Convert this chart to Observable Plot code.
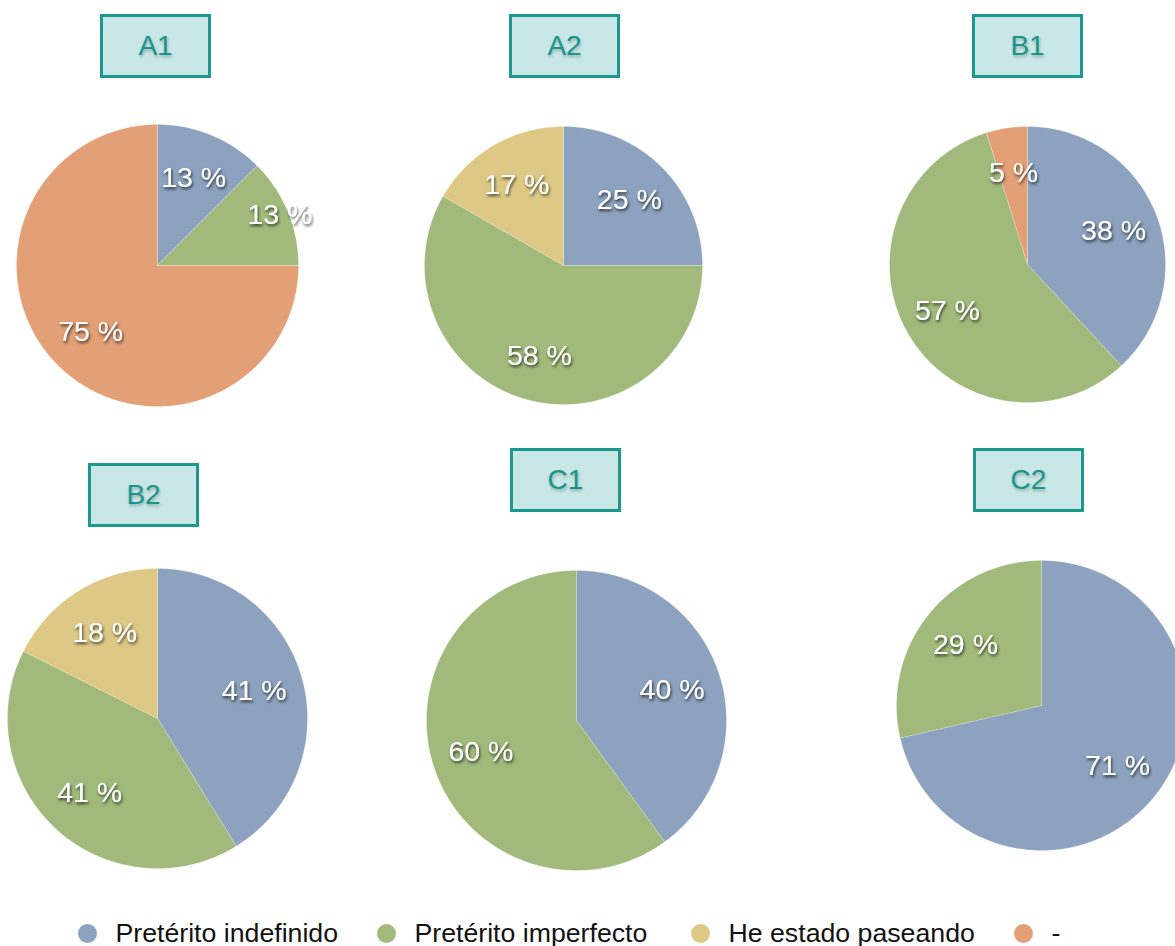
<!DOCTYPE html>
<html>
<head>
<meta charset="utf-8">
<script src="https://cdn.jsdelivr.net/npm/d3@7"></script>
<script src="https://cdn.jsdelivr.net/npm/@observablehq/plot@0.6"></script>
<style>
  html, body { margin: 0; padding: 0; background: #fff; }
  body { width: 1175px; height: 946px; position: relative; overflow: hidden;
         font-family: "Liberation Sans", Arial, Helvetica, sans-serif; }
  .pie { position: absolute; }
  .title { position: absolute; box-sizing: border-box; width: 111px; height: 64px;
           border: 3px solid #1c9891; background: #c9e7e7; color: #1a958e;
           font-size: 28px; display: flex; align-items: center; justify-content: center;
           text-shadow: 1px 2px 3px rgba(0,0,0,0.25); z-index: 5; }
  .legend .item { position: absolute; top: 918px; height: 30px; display: flex; align-items: center;
                  font-size: 26.7px; color: #111; white-space: nowrap; }
  .legend .dot { width: 19px; height: 19px; border-radius: 50%; margin-right: 19px; flex: none; }
</style>
</head>
<body>
<svg width="0" height="0" style="position:absolute">
  <defs>
    <filter id="labelShadow" x="-30%" y="-30%" width="160%" height="170%">
      <feDropShadow dx="1" dy="2" stdDeviation="1.6" flood-color="#000" flood-opacity="0.7"/>
    </filter>
  </defs>
</svg>
<script>
// ---- data ----
const categories = ["Pretérito indefinido", "Pretérito imperfecto", "He estado paseando", "-"];
const colors = ["#8ca2be", "#a1ba7b", "#ddc985", "#e3a077"];
const charts = ["A1", "A2", "B1", "B2", "C1", "C2"];
const indefinido = [12.5, 25.0, 38.1, 41.2, 40.0, 71.4];
const imperfecto = [12.5, 58.3, 57.1, 41.2, 60.0, 28.6];
const paseando   = [0,    16.7, 0,    17.6, 0,    0];
const guion      = [75.0, 0,    4.8,  0,    0,    0];

// ---- layout (pixel placement of each pie, its title box, legend items) ----
const layout = [
  {cx: 157,  cy: 265, r: 141, tx: 155.5,  ty: 46},
  {cx: 563,  cy: 265, r: 139, tx: 564.5,  ty: 46},
  {cx: 1027, cy: 264, r: 138, tx: 1027.5, ty: 46},
  {cx: 157,  cy: 718, r: 150, tx: 143.5,  ty: 495},
  {cx: 576,  cy: 720, r: 150, tx: 565.5,  ty: 480},
  {cx: 1041, cy: 705, r: 145, tx: 1028.5, ty: 480}
];
const legendLeft = [77.5, 376.5, 690.5, 1013.5];
const M = 60;

charts.forEach((name, ci) => {
  const values = [indefinido[ci], imperfecto[ci], paseando[ci], guion[ci]];
  const total = d3.sum(values);
  const poly = [];
  const labels = [];
  let acc = 0;
  values.forEach((v, k) => {
    if (v <= 0) return;
    const a0 = acc / total * 2 * Math.PI;
    const a1 = (acc + v) / total * 2 * Math.PI;
    acc += v;
    const cat = categories[k];
    poly.push({cat, x: 0, y: 0});
    const steps = Math.max(2, Math.ceil((a1 - a0) / (Math.PI / 360)));
    for (let s = 0; s <= steps; s++) {
      const a = a0 + (a1 - a0) * s / steps;
      poly.push({cat, x: Math.sin(a), y: Math.cos(a)});
    }
    poly.push({cat, x: 0, y: 0});
    const am = (a0 + a1) / 2;
    // the second small slice of A1 has its label pushed outward in the original
    const lr = (name === "A1" && k === 1) ? 0.94 : 0.67;
    labels.push({x: lr * Math.sin(am), y: lr * Math.cos(am), text: Math.round(v / total * 100) + " %"});
  });

  const L = layout[ci];
  const size = 2 * L.r + 2 * M;
  const svg = Plot.plot({
    width: size, height: size, margin: M,
    style: {background: "transparent", maxWidth: "none", overflow: "visible"},
    x: {domain: [-1, 1], axis: null},
    y: {domain: [-1, 1], axis: null},
    color: {domain: categories, range: colors},
    marks: [
      Plot.line(poly, {x: "x", y: "y", z: "cat", fill: "cat", stroke: "white", strokeWidth: 0.4, strokeOpacity: 0.5, curve: "linear"}),
      Plot.text(labels, {x: "x", y: "y", text: "text", fill: "white", fontSize: 28.5,
        fontFamily: "Liberation Sans, Arial, Helvetica, sans-serif"})
    ]
  });
  svg.querySelectorAll('g[aria-label="text"]').forEach(g => g.setAttribute("filter", "url(#labelShadow)"));
  const div = document.createElement("div");
  div.className = "pie";
  div.style.left = (L.cx - L.r - M) + "px";
  div.style.top = (L.cy - L.r - M) + "px";
  div.style.width = size + "px";
  div.style.height = size + "px";
  div.appendChild(svg);
  document.body.appendChild(div);

  const t = document.createElement("div");
  t.className = "title";
  t.textContent = name;
  t.style.left = (L.tx - 55.5) + "px";
  t.style.top = (L.ty - 32) + "px";
  document.body.appendChild(t);
});

// ---- legend ----
const legend = document.createElement("div");
legend.className = "legend";
categories.forEach((c, i) => {
  const item = document.createElement("div");
  item.className = "item";
  item.style.left = legendLeft[i] + "px";
  const dot = document.createElement("span");
  dot.className = "dot";
  dot.style.background = colors[i];
  const label = document.createElement("span");
  label.textContent = c;
  item.appendChild(dot);
  item.appendChild(label);
  legend.appendChild(item);
});
document.body.appendChild(legend);
</script>
</body>
</html>
